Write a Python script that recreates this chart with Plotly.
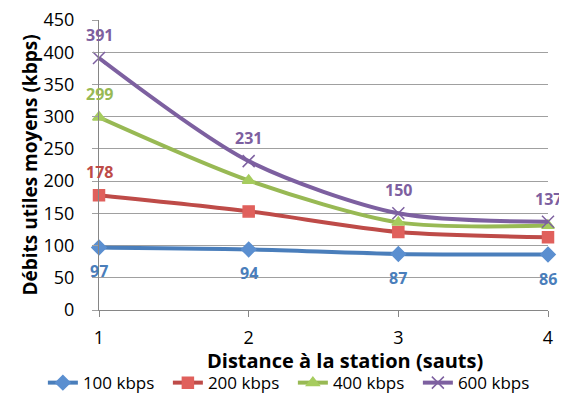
import plotly.graph_objects as go

sauts = [1, 2, 3, 4]
debit_100 = [97, 94, 87, 86]
debit_200 = [178, 153, 121, 113]
debit_400 = [299, 201, 136, 131]
debit_600 = [391, 231, 150, 137]

labels_100 = ["97", "94", "87", "86"]
labels_200 = ["178", "", "", ""]
labels_400 = ["299", "", "", ""]
labels_600 = ["391", "231", "150", "137"]

series = [
    ("100 kbps", debit_100, labels_100, "#4A7EBB", "#5B8FD0", "diamond", -24),
    ("200 kbps", debit_200, labels_200, "#BE4B48", "#E0605C", "square", 23),
    ("400 kbps", debit_400, labels_400, "#98B954", "#A6CC5E", "triangle-up", 23),
    ("600 kbps", debit_600, labels_600, "#7D60A0", "#7D60A0", "x-thin", 23),
]

fig = go.Figure()
notes = []
for name, vals, txt, col, mcol, sym, shift in series:
    fig.add_trace(go.Scatter(
        x=sauts, y=vals, name=name, mode="lines+markers",
        line=dict(color=col, width=4, shape="spline", smoothing=0.8),
        marker=dict(symbol=sym, size=11 if sym != "x-thin" else 12, color=mcol,
                    line=dict(color=mcol, width=1.5)),
        cliponaxis=False,
    ))
    for xv, yv, t in zip(sauts, vals, txt):
        if t:
            notes.append(dict(x=xv, y=yv, text=t, showarrow=False, yshift=shift,
                              font=dict(size=16, color=col, weight="bold")))

notes.append(dict(
    text="Distance à la station (sauts)", xref="paper", yref="paper",
    x=0.548, y=0, xanchor="center", yanchor="middle", yshift=-50,
    showarrow=False, font=dict(size=20, weight="bold"),
))

# page body has an 8px margin, so the figure is 8px smaller than the window
fig.update_layout(
    width=559, height=392,
    margin=dict(l=91, r=19, t=12, b=90, autoexpand=False),
    plot_bgcolor="white", paper_bgcolor="white",
    font=dict(family="Open Sans", size=16, color="black"),
    showlegend=True,
    legend=dict(orientation="h", x=-0.125, xanchor="left",
                y=-0.252, yanchor="middle",
                font=dict(size=17), entrywidth=80, entrywidthmode="pixels",
                itemwidth=30, traceorder="normal"),
    xaxis=dict(
        range=[1, 4], tickvals=sauts, showgrid=False, automargin=False,
        showline=True, linecolor="#868686", ticks="outside", ticklen=6,
        tickcolor="#868686", tickfont=dict(size=18), zeroline=False,
        ticklabelstandoff=5, ticklabeloverflow="allow",
    ),
    yaxis=dict(
        range=[0, 450], dtick=50, showgrid=True, gridcolor="#A0A0A0",
        automargin=False, ticklabelstandoff=14, ticklabeloverflow="allow",
        showline=True, linecolor="#868686", ticks="outside", ticklen=6,
        tickcolor="#A0A0A0", tickfont=dict(size=18), zeroline=False,
        title=dict(text="Débits utiles moyens (kbps)", standoff=0,
                   font=dict(size=19, weight="bold")),
    ),
    annotations=notes,
)

fig.write_html("out.html")
